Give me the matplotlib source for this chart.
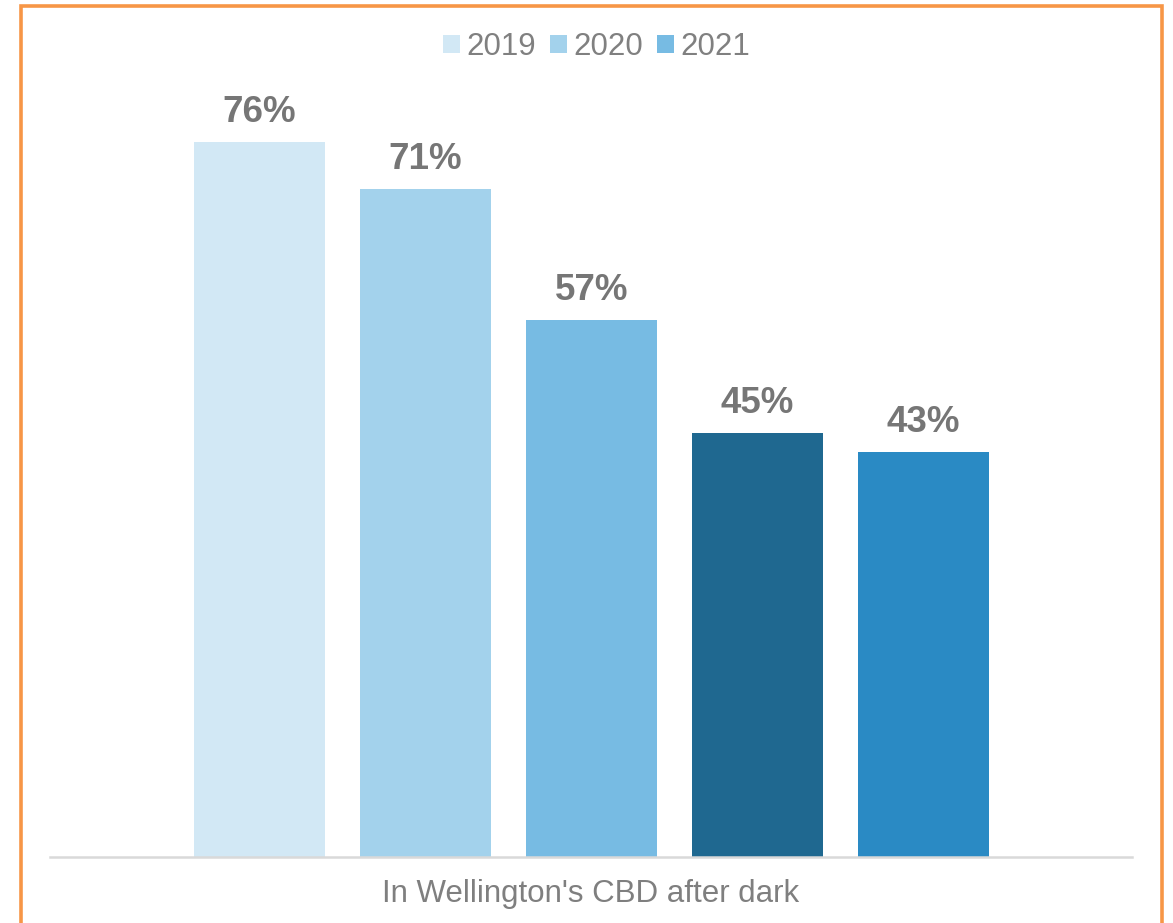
import matplotlib
matplotlib.use("Agg")
import matplotlib.pyplot as plt
from matplotlib.patches import Patch, Rectangle

plt.rcParams["font.family"] = ["Liberation Sans", "DejaVu Sans"]

# data
values = [76, 71, 57, 45, 43]
bar_colors = ["#D2E8F5", "#A3D2EC", "#77BBE3", "#1F6890", "#2A8AC4"]
legend_labels = ["2019", "2020", "2021"]
category = "In Wellington's CBD after dark"

W, H = 1173, 923
fig = plt.figure(figsize=(W / 100, H / 100), dpi=100)
ax = fig.add_axes([50 / W, 66 / H, 1082 / W, 753 / H])

x = list(range(len(values)))
bars = ax.bar(x, values, width=0.79, color=bar_colors)

for rect, v in zip(bars, values):
    ax.annotate(f"{v}%", (rect.get_x() + rect.get_width() / 2, v),
                xytext=(0, 14.4), textcoords="offset points",
                ha="center", va="baseline", fontsize=26.5,
                fontweight="bold", color="#767676")

ax.set_xlim(-1.262, 5.256)
ax.set_ylim(0, 80)
ax.set_xticks([])
ax.set_yticks([])
for side in ["top", "left", "right"]:
    ax.spines[side].set_visible(False)
ax.spines["bottom"].set_color("#D9D9D9")
ax.spines["bottom"].set_linewidth(1.8)

fig.text(591 / W, 1 - 894 / H, category, ha="center", va="center",
         fontsize=22.5, color="#7F7F7F")

handles = [Patch(facecolor=c, edgecolor="none") for c in bar_colors[:3]]
fig.legend(handles, legend_labels, loc="center",
           bbox_to_anchor=(596.5 / W, 1 - 47 / H), ncol=3, frameon=False,
           fontsize=22.5, labelcolor="#808080", handlelength=0.55,
           handleheight=0.55, handletextpad=0.2, columnspacing=0.45,
           borderpad=0, borderaxespad=0)

# orange frame around the chart
fig.patches.append(Rectangle((20.5 / W, -0.05), 1141 / W, 1.05 - 6.5 / H,
                             transform=fig.transFigure, fill=False,
                             edgecolor="#F79646", linewidth=2.6))

fig.savefig("out.png", dpi=100, facecolor="white")
